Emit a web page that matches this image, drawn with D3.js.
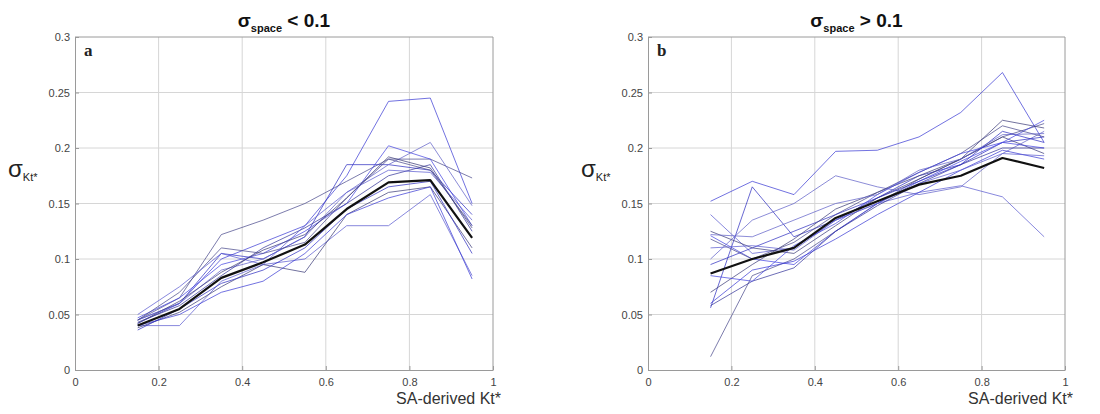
<!DOCTYPE html>
<html><head><meta charset="utf-8">
<script src="https://cdn.jsdelivr.net/npm/d3@7"></script>
<style>body{margin:0;background:#fff}svg{display:block}</style>
</head><body>
<svg id="c" width="1100" height="414"></svg>
<script>
const xPoints = [0.15,0.25,0.35,0.45,0.55,0.65,0.75,0.85,0.95];
const xTicks = [0,0.2,0.4,0.6,0.8,1];
const xTickLabels = ["0","0.2","0.4","0.6","0.8","1"];
const yTicks = [0,0.05,0.1,0.15,0.2,0.25,0.3];
const yTickLabels = ["0","0.05","0.1","0.15","0.2","0.25","0.3"];

const seriesA = [
  [0.045,0.060,0.100,0.115,0.130,0.175,0.242,0.245,0.150],
  [0.045,0.065,0.122,0.135,0.150,0.170,0.190,0.190,0.173],
  [0.042,0.060,0.105,0.100,0.120,0.185,0.185,0.180,0.140],
  [0.040,0.040,0.080,0.095,0.100,0.130,0.130,0.158,0.085],
  [0.038,0.052,0.075,0.095,0.088,0.140,0.160,0.165,0.110],
  [0.047,0.065,0.095,0.105,0.125,0.150,0.202,0.190,0.130],
  [0.045,0.060,0.090,0.100,0.120,0.160,0.185,0.205,0.148],
  [0.043,0.058,0.085,0.110,0.128,0.150,0.175,0.185,0.125],
  [0.040,0.050,0.070,0.080,0.105,0.140,0.155,0.165,0.082],
  [0.045,0.070,0.110,0.105,0.115,0.155,0.190,0.180,0.130],
  [0.036,0.055,0.078,0.090,0.110,0.145,0.165,0.170,0.105],
  [0.050,0.075,0.105,0.095,0.130,0.160,0.180,0.178,0.135],
  [0.042,0.062,0.088,0.108,0.122,0.155,0.192,0.182,0.128]
];
const meanA = [0.040,0.055,0.083,0.097,0.113,0.145,0.169,0.171,0.119];

const seriesB = [
  [0.152,0.170,0.158,0.197,0.198,0.210,0.232,0.268,0.205],
  [0.012,0.085,0.100,0.125,0.150,0.172,0.190,0.210,0.222],
  [0.056,0.165,0.120,0.135,0.155,0.175,0.185,0.205,0.210],
  [0.140,0.105,0.110,0.135,0.150,0.160,0.166,0.156,0.120],
  [0.125,0.110,0.105,0.130,0.155,0.172,0.190,0.210,0.195],
  [0.121,0.100,0.095,0.125,0.150,0.170,0.188,0.205,0.225],
  [0.100,0.135,0.150,0.175,0.165,0.158,0.165,0.195,0.215],
  [0.058,0.080,0.092,0.125,0.148,0.168,0.185,0.200,0.200],
  [0.060,0.090,0.098,0.118,0.140,0.160,0.180,0.198,0.190],
  [0.118,0.100,0.115,0.140,0.160,0.178,0.195,0.220,0.210],
  [0.095,0.110,0.125,0.140,0.155,0.170,0.185,0.215,0.205],
  [0.110,0.112,0.108,0.135,0.150,0.168,0.180,0.195,0.193],
  [0.070,0.095,0.118,0.145,0.160,0.175,0.190,0.225,0.218],
  [0.085,0.080,0.112,0.132,0.158,0.178,0.195,0.205,0.200],
  [0.122,0.120,0.135,0.150,0.158,0.180,0.190,0.212,0.213]
];
const meanB = [0.087,0.100,0.110,0.137,0.152,0.167,0.175,0.191,0.182];

const lineColors = ["#3b3bd4","#4a4a8c","#2f2fc0","#5a5ad0","#3c3c78","#4444e0","#6060c8","#35359a"];

const svg = d3.select("#c");

function panel(opts){
  const {left,right,top,bottom,series,mean,title,letter} = opts;
  const x = d3.scaleLinear().domain([0,1]).range([left,right]);
  const y = d3.scaleLinear().domain([0,0.3]).range([bottom,top]);
  const g = svg.append("g");
  g.append("g").selectAll("line").data(xTicks.slice(1,-1)).join("line")
    .attr("x1",d=>x(d)).attr("x2",d=>x(d)).attr("y1",top).attr("y2",bottom)
    .attr("stroke","#d6d6d6").attr("stroke-width",1);
  g.append("g").selectAll("line").data(yTicks.slice(1,-1)).join("line")
    .attr("y1",d=>y(d)).attr("y2",d=>y(d)).attr("x1",left).attr("x2",right)
    .attr("stroke","#d6d6d6").attr("stroke-width",1);
  const xa = g.append("g").attr("transform",`translate(0,${bottom})`)
    .call(d3.axisBottom(x).tickValues(xTicks).tickFormat((d,i)=>xTickLabels[i]).tickSizeInner(-4).tickSizeOuter(0).tickPadding(8));
  const ya = g.append("g").attr("transform",`translate(${left},0)`)
    .call(d3.axisLeft(y).tickValues(yTicks).tickFormat((d,i)=>yTickLabels[i]).tickSizeInner(-4).tickSizeOuter(0).tickPadding(5));
  [xa,ya].forEach(a=>{
    a.select(".domain").attr("stroke","#9a9a9a");
    a.selectAll(".tick line").attr("stroke","#9a9a9a");
    a.selectAll("text").attr("font-family","Arial, Liberation Sans, sans-serif").attr("font-size",11).attr("fill","#444");
  });
  g.append("line").attr("x1",left).attr("x2",right).attr("y1",top).attr("y2",top).attr("stroke","#9a9a9a");
  g.append("line").attr("x1",right).attr("x2",right).attr("y1",top).attr("y2",bottom).attr("stroke","#9a9a9a");

  const line = d3.line().x((d,i)=>x(xPoints[i])).y(d=>y(d));
  g.append("g").selectAll("path").data(series).join("path")
    .attr("d",line).attr("fill","none")
    .attr("stroke",(d,i)=>lineColors[i%lineColors.length])
    .attr("stroke-opacity",0.72).attr("stroke-width",1);
  g.append("path").datum(mean).attr("d",line).attr("fill","none")
    .attr("stroke","#111").attr("stroke-width",2.2).attr("stroke-linejoin","round");

  const t = g.append("text").attr("x",(left+right)/2).attr("y",27).attr("text-anchor","middle")
    .attr("font-family","Arial, Liberation Sans, sans-serif").attr("font-weight","bold").attr("font-size",19).attr("fill","#111");
  t.append("tspan").text("σ");
  t.append("tspan").attr("font-size",11).attr("dy",5).text("space");
  t.append("tspan").attr("dy",-5).text(" " + title);
  g.append("text").attr("x",left+9).attr("y",top+19).attr("font-family","Times New Roman, Liberation Serif, serif")
    .attr("font-weight","bold").attr("font-size",17).attr("fill","#222").text(letter);
  const yl = g.append("text").attr("x",left-67).attr("y",177)
    .attr("font-family","Arial, Liberation Sans, sans-serif").attr("fill","#222");
  yl.append("tspan").attr("font-size",24).text("σ");
  yl.append("tspan").attr("font-size",11).attr("dy",4).text("Kt*");
  g.append("text").attr("x",right+8).attr("y",404).attr("text-anchor","end")
    .attr("font-family","Arial, Liberation Sans, sans-serif").attr("font-size",16).attr("fill","#333")
    .text("SA-derived Kt*");
}

panel({left:75,right:493,top:37,bottom:370,series:seriesA,mean:meanA,title:"< 0.1",letter:"a"});
panel({left:648,right:1065,top:37,bottom:370,series:seriesB,mean:meanB,title:"> 0.1",letter:"b"});
</script>
</body></html>
